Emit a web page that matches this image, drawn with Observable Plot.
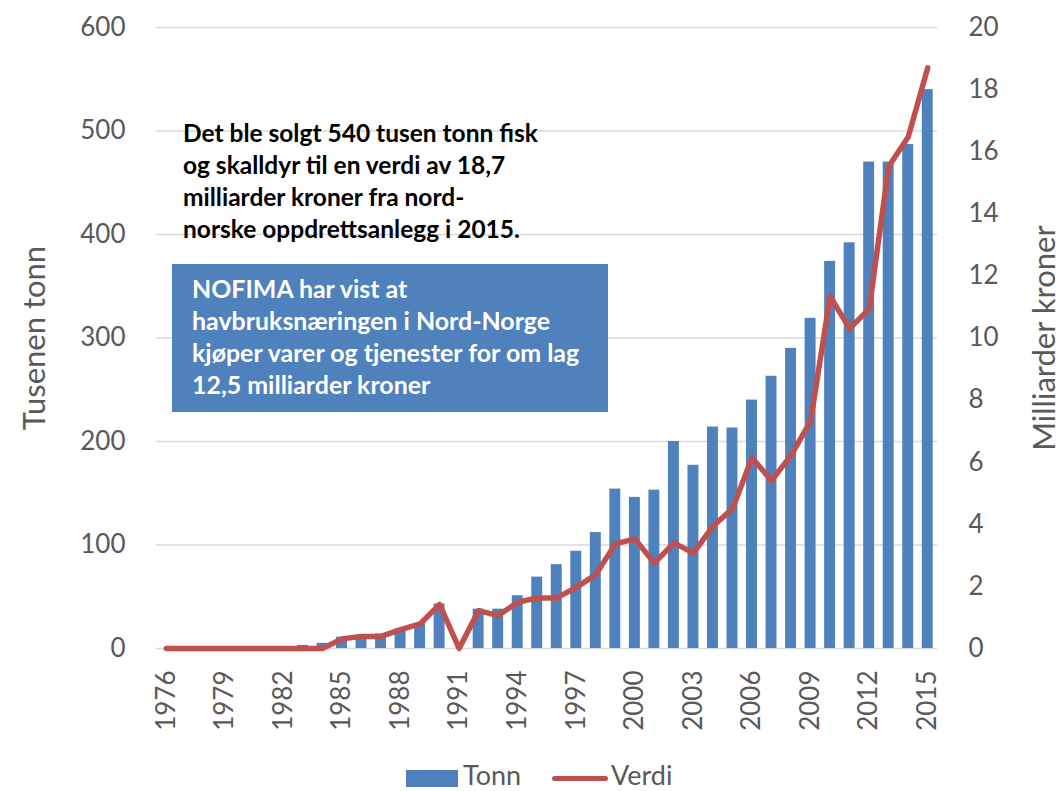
<!DOCTYPE html>
<html>
<head>
<meta charset="utf-8">
<script src="https://cdn.jsdelivr.net/npm/d3@7"></script>
<script src="https://cdn.jsdelivr.net/npm/@observablehq/plot@0.6"></script>
<style>
  body { margin: 0; background: #fff; font-family: Lato, sans-serif; }
  #wrap { position: relative; width: 1064px; height: 791px; overflow: hidden; }
  #note1 { position: absolute; left: 183px; font-family: Lato, sans-serif; font-weight: bold; line-height: 32px; color: #000; white-space: nowrap; }
  #box { position: absolute; left: 172px; top: 264px; width: 436px; height: 148px; background: #4f81bd; }
  #note2 { position: absolute; left: 20px; font-family: Lato, sans-serif; font-weight: bold; line-height: 32px; color: #fff; white-space: nowrap; }
  .leg { position: absolute; font: 27px/26px Lato, sans-serif; color: #595959; white-space: nowrap; }
</style>
</head>
<body>
<div id="wrap"></div>
<script>
const years = [1976,1977,1978,1979,1980,1981,1982,1983,1984,1985,1986,1987,1988,1989,1990,1991,1992,1993,1994,1995,1996,1997,1998,1999,2000,2001,2002,2003,2004,2005,2006,2007,2008,2009,2010,2011,2012,2013,2014,2015];
const tonn = [0,0,0,0,0,0,0,3,5,11,13,14,19,24,43,0,38,38,51,69,81,94,112,154,146,153,200,177,214,213,240,263,290,319,374,392,470,470,487,540];
const verdi = [0,0,0,0,0,0,0,0,0,0.31,0.39,0.39,0.61,0.79,1.42,0,1.22,1.06,1.49,1.63,1.63,1.97,2.38,3.37,3.53,2.75,3.40,3.07,3.94,4.50,6.14,5.41,6.22,7.32,11.34,10.3,10.94,15.52,16.47,18.7];
const xTicks = [1976,1979,1982,1985,1988,1991,1994,1997,2000,2003,2006,2009,2012,2015];
const leftTicks = [0,100,200,300,400,500,600];
const rightTicks = [0,2,4,6,8,10,12,14,16,18,20];
const leftMax = 600, rightMax = 20;
const ratio = leftMax / rightMax;

const note1Lines = ["Det ble solgt 540 tusen tonn fisk", "og skalldyr til en verdi av 18,7", "milliarder kroner fra nord-", "norske oppdrettsanlegg i 2015."];
const note2Lines = ["NOFIMA har vist at", "havbruksnæringen i Nord-Norge", "kjøper varer og tjenester for om lag", "12,5 milliarder kroner"];

const data = years.map((y, i) => ({year: y, tonn: tonn[i], verdi: verdi[i]}));

const chart = Plot.plot({
  width: 1064,
  height: 760,
  marginLeft: 156,
  marginRight: 127,
  marginTop: 27,
  marginBottom: 112,
  style: {fontFamily: "Lato, sans-serif", fontSize: "26px", background: "white", overflow: "visible"},
  x: {type: "band", domain: years, paddingInner: 0.44, paddingOuter: 0.22, align: 0.5, round: false},
  y: {domain: [0, leftMax]},
  marks: [
    Plot.ruleY(leftTicks, {stroke: "#d9d9d9", strokeWidth: 1.5}),
    Plot.barY(data, {x: "year", y: "tonn", fill: "#4f81bd"}),
    Plot.line(data, {x: "year", y: d => d.verdi * ratio, stroke: "#c0504d", strokeWidth: 5.5, strokeLinejoin: "round", strokeLinecap: "round"}),
    Plot.axisY(leftTicks, {anchor: "left", tickSize: 0, tickPadding: 31, fill: "#595959", label: null}),
    Plot.axisY(rightTicks.map(v => v * ratio), {anchor: "right", tickSize: 0, tickPadding: 31, tickFormat: d => String(Math.round(d / ratio)), fill: "#595959", label: null}),
    Plot.axisX(xTicks, {anchor: "bottom", tickSize: 0, tickPadding: 22, tickRotate: -90, tickFormat: d => String(d), fill: "#595959", label: null}),
    Plot.text(["Tusenen tonn"], {frameAnchor: "left", textAnchor: "middle", dx: -121, rotate: -90, fontSize: 31, fill: "#595959"}),
    Plot.text(["Milliarder kroner"], {frameAnchor: "right", textAnchor: "middle", dx: 108, rotate: -90, fontSize: 31, fill: "#595959"})
  ]
});

const wrap = document.getElementById("wrap");
wrap.appendChild(chart);

// fit annotation font size to the reference line widths
const ctx = document.createElement("canvas").getContext("2d");
function fitSize(line, target) {
  ctx.font = "bold 20px Lato";
  const w = ctx.measureText(line).width;
  return 20 * target / w;
}
const s1 = fitSize(note1Lines[0], 355);
const s2 = fitSize(note2Lines[2], 390);

const note1 = document.createElement("div");
note1.id = "note1";
note1.style.fontSize = s1 + "px";
note1.style.top = (142 - 16 - 0.5 * 0.987 * s1 + 0.5 * 0.213 * s1) + "px";
note1.innerHTML = note1Lines.join("<br>");
wrap.appendChild(note1);

const box = document.createElement("div");
box.id = "box";
const note2 = document.createElement("div");
note2.id = "note2";
note2.style.fontSize = s2 + "px";
note2.style.top = (298 - 264 - 16 - 0.5 * 0.987 * s2 + 0.5 * 0.213 * s2) + "px";
note2.innerHTML = note2Lines.join("<br>");
box.appendChild(note2);
wrap.appendChild(box);

// legend
const sw1 = document.createElement("div");
sw1.style.cssText = "position:absolute;left:406px;top:770px;width:52px;height:17px;background:#4f81bd;";
wrap.appendChild(sw1);
const t1 = document.createElement("div");
t1.className = "leg"; t1.style.left = "463px"; t1.style.top = "762px"; t1.textContent = "Tonn";
wrap.appendChild(t1);
const sw2 = document.createElement("div");
sw2.style.cssText = "position:absolute;left:552px;top:776px;width:56px;height:5px;border-radius:2.5px;background:#c0504d;";
wrap.appendChild(sw2);
const t2 = document.createElement("div");
t2.className = "leg"; t2.style.left = "611px"; t2.style.top = "762px"; t2.textContent = "Verdi";
wrap.appendChild(t2);
</script>
</body>
</html>
